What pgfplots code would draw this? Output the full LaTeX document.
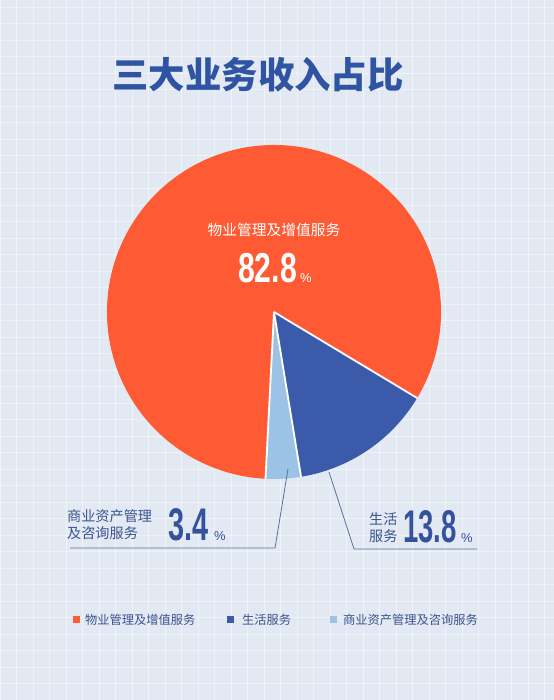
\documentclass[border=0pt]{standalone}
\usepackage{fontspec}
\setmainfont{Noto Sans CJK SC}
\newfontfamily\numfont{Liberation Sans}
\usepackage{graphicx}
\usepackage{pgfplots}
\usepackage{pgfplotstable}
\pgfplotsset{compat=1.18}

\definecolor{bgc}{HTML}{E3E9F2}
\definecolor{orangec}{HTML}{FE5A33}
\definecolor{dbluec}{HTML}{3B5BAA}
\definecolor{lbluec}{HTML}{9CC3E5}
\definecolor{titlec}{HTML}{2E54A3}
\definecolor{txtc}{HTML}{3A5490}
\definecolor{numc}{HTML}{34529E}
\definecolor{leadc}{HTML}{5C7099}

% shares in percent, counter-clockwise from the bottom
\pgfplotstableread{
name value
lb 3.4
db 13.8
or 82.8
}\pietable
\pgfplotstablegetelem{0}{value}\of\pietable \let\vLB\pgfplotsretval
\pgfplotstablegetelem{1}{value}\of\pietable \let\vDB\pgfplotsretval
\pgfplotstablegetelem{2}{value}\of\pietable \let\vOR\pgfplotsretval
\pgfmathsetmacro\aA{-31-3.6*(\vLB+\vDB)}
\pgfmathsetmacro\aB{\aA+3.6*\vLB}
\pgfmathsetmacro\aC{\aB+3.6*\vDB}
\pgfmathsetmacro\aD{\aC+3.6*\vOR}

\begin{document}
\begin{tikzpicture}
\begin{axis}[
  x=1bp, y=1bp, scale only axis,
  xmin=0, xmax=554, ymin=0, ymax=700,
  axis line style={draw=none}, tick style={draw=none},
  xticklabels={}, yticklabels={},
  xtick distance=16.5, ytick distance=16.5,
  grid=major, major grid style={white, line width=0.7bp, opacity=0.45},
  axis background/.style={fill=bgc},
  clip=false,
]
\coordinate (bl) at (axis cs:0,0);
\coordinate (tr) at (axis cs:554,700);

% title
\node[text=titlec, font=\fontsize{36.5}{40}\selectfont\bfseries, inner sep=0]
  at (axis cs:258,625) {三大业务收入占比};

% pie
\fill[lbluec] (axis cs:274,388) -- ++(\aA:167bp) arc[start angle=\aA, end angle=\aB, radius=167bp] -- cycle;
\fill[dbluec] (axis cs:274,388) -- ++(\aB:167bp) arc[start angle=\aB, end angle=\aC, radius=167bp] -- cycle;
\fill[orangec] (axis cs:274,388) -- ++(\aC:167bp) arc[start angle=\aC, end angle=\aD, radius=167bp] -- cycle;
\draw[white, line width=1.8bp] (axis cs:274,388) -- ++(\aA:167bp);
\draw[white, line width=1.8bp] (axis cs:274,388) -- ++(\aB:167bp);
\draw[white, line width=1.8bp] (axis cs:274,388) -- ++(\aC:167bp);

% label inside the big slice
\node[text=white, font=\fontsize{14.8}{16}\selectfont, inner sep=0]
  at (axis cs:274,470) {物业管理及增值服务};
\node[anchor=base east, inner sep=0, text=white] at (axis cs:297,417)
  {\scalebox{0.72}[1]{\numfont\bfseries\fontsize{42}{42}\selectfont 82.8}};
\node[anchor=base west, inner sep=0, text=white] at (axis cs:300,417)
  {\numfont\fontsize{13}{13}\selectfont\%};

% leader lines
\draw[leadc, line width=0.8bp] (axis cs:288,231) -- (axis cs:275,152) -- (axis cs:70,152);
\draw[leadc, line width=0.8bp] (axis cs:329,228) -- (axis cs:354,151) -- (axis cs:477,151);

% left label
\node[anchor=west, align=left, inner sep=0, text=txtc, font=\fontsize{14.2}{17}\selectfont]
  at (axis cs:67,175) {商业资产管理\\及咨询服务};
\node[anchor=base east, inner sep=0, text=numc] at (axis cs:209,159)
  {\scalebox{0.63}[1]{\numfont\bfseries\fontsize{46}{46}\selectfont 3.4}};
\node[anchor=base west, inner sep=0, text=numc] at (axis cs:214,159)
  {\numfont\fontsize{13}{13}\selectfont\%};

% right label
\node[anchor=west, align=left, inner sep=0, text=txtc, font=\fontsize{14.2}{17}\selectfont]
  at (axis cs:369,172) {生活\\服务};
\node[anchor=base east, inner sep=0, text=numc] at (axis cs:457,157)
  {\scalebox{0.6}[1]{\numfont\bfseries\fontsize{46}{46}\selectfont 13.8}};
\node[anchor=base west, inner sep=0, text=numc] at (axis cs:461,157)
  {\numfont\fontsize{13}{13}\selectfont\%};

% legend
\fill[orangec] (axis cs:73,76.5) rectangle (axis cs:80,83.5);
\node[anchor=west, inner sep=0, text=txtc, font=\fontsize{12.3}{14}\selectfont] at (axis cs:85,80) {物业管理及增值服务};
\fill[dbluec] (axis cs:227,76.5) rectangle (axis cs:234,83.5);
\node[anchor=west, inner sep=0, text=txtc, font=\fontsize{12.3}{14}\selectfont] at (axis cs:242,80) {生活服务};
\fill[lbluec] (axis cs:330,76.5) rectangle (axis cs:337,83.5);
\node[anchor=west, inner sep=0, text=txtc, font=\fontsize{12.3}{14}\selectfont] at (axis cs:343,80) {商业资产管理及咨询服务};
\end{axis}
\pgfresetboundingbox
\useasboundingbox (bl) rectangle (tr);
\end{tikzpicture}
\end{document}
